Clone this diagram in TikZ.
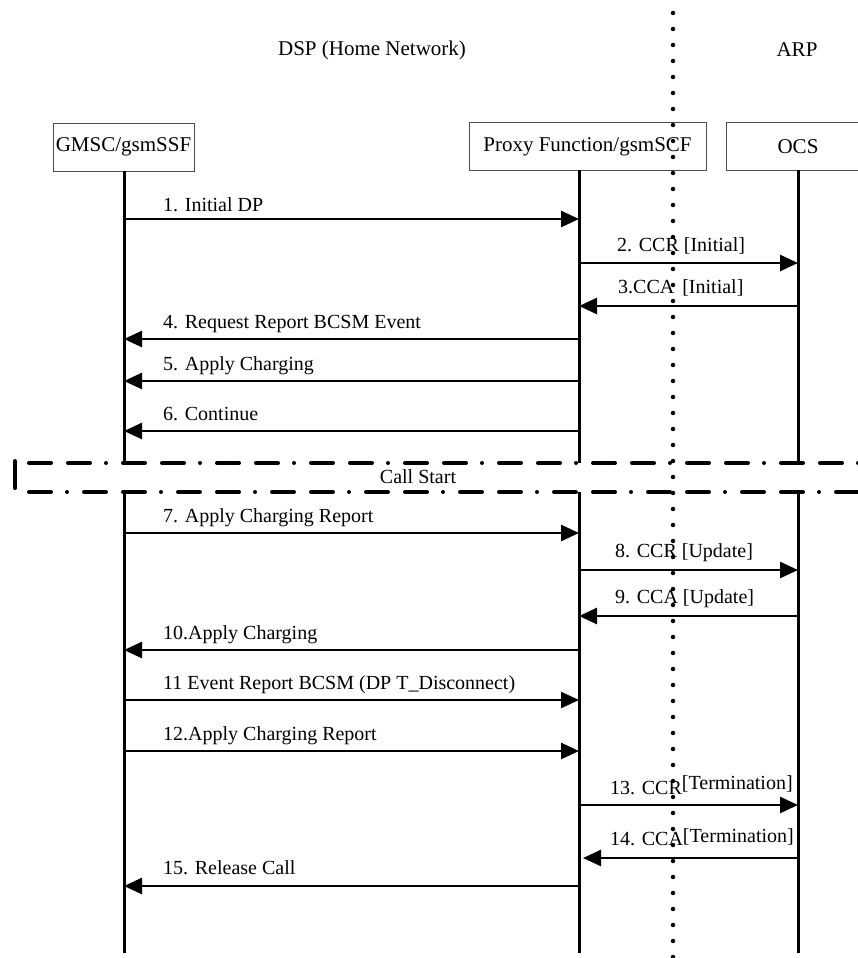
\documentclass[tikz,border=0pt]{standalone}
\usepackage{fontspec}
\setmainfont{Liberation Serif}
\usetikzlibrary{arrows.meta}
\begin{document}
\begin{tikzpicture}[x=1pt,y=-1pt,
  box/.style={draw=black!70, line width=0.8pt, minimum height=48pt, inner sep=0pt, font=\fontsize{21}{24}\selectfont},
  life/.style={line width=3pt},
  msg/.style={line width=2.6pt, -{Triangle[length=18pt,width=16pt]}},
  lab/.style={anchor=base west, inner sep=0pt, font=\fontsize{20}{24}\selectfont},
  hdr/.style={font=\fontsize{21}{24}\selectfont, inner sep=0pt},
  sepline/.style={line width=4pt, line cap=round, dash pattern=on 22pt off 17pt on 22pt off 16pt on 0pt off 17pt},
  dotline/.style={line width=4.5pt, line cap=round, dash pattern=on 0pt off 16pt}]
\useasboundingbox (0,0) rectangle (858,958);
\clip (0,0) rectangle (858,958);

% headers
\node[hdr] (dsp) at (372,50) {DSP (Home Network)};
\node[hdr] (arp) at (797,50) {ARP};

% entity boxes
\node[box, minimum width=141pt] (gmsc) at (123.5,147) {GMSC/gsmSSF};
\node[box, minimum width=237pt] (proxy) at (587.5,146.5) {Proxy Function/gsmSCF};
\node[box, minimum width=144pt] (ocs) at (798,146.5) {OCS};

% lifeline coordinates
\coordinate (gT) at (124,171); \coordinate (gM1) at (124,463); \coordinate (gM2) at (124,492); \coordinate (gE) at (124,953);
\coordinate (pT) at (579,170); \coordinate (pM1) at (579,463); \coordinate (pM2) at (579,492); \coordinate (pE) at (579,953);
\coordinate (oT) at (798,170); \coordinate (oM1) at (798,463); \coordinate (oM2) at (798,492); \coordinate (oE) at (798,953);
\draw[life] (gT) -- (gM1) (gM2) -- (gE);
\draw[life] (pT) -- (pM1) (pM2) -- (pE);
\draw[life] (oT) -- (oM1) (oM2) -- (oE);

% message coordinates
\foreach \i/\y in {1/219,2/263,3/306,4/339,5/381,6/431,7/533,8/570,9/616,10/650,11/700,12/751,13/805,14/858,15/886}{
  \coordinate (g\i) at (124,\y);
  \coordinate (p\i) at (579,\y);
  \coordinate (o\i) at (798,\y);
}
\coordinate (p14tip) at (583,858);

% messages
\draw[msg] (g1) -- (p1);
\node[lab] (l1) at (163,211) {1. Initial DP};
\draw[msg] (p2) -- (o2);
\node[lab] (l2) at (617,251) {2. CCR [Initial]};
\draw[msg] (o3) -- (p3);
\node[lab] (l3) at (618,293) {3.CCA\hspace{8pt}[Initial]};
\draw[msg] (p4) -- (g4);
\node[lab] (l4) at (163,328) {4. Request Report BCSM Event};
\draw[msg] (p5) -- (g5);
\node[lab] (l5) at (163,370) {5. Apply Charging};
\draw[msg] (p6) -- (g6);
\node[lab] (l6) at (163,420) {6. Continue};

% call start band
\coordinate (bTl) at (29,463); \coordinate (bTr) at (858,463);
\coordinate (bBl) at (29,492); \coordinate (bBr) at (858,492);
\coordinate (brT) at (15,461); \coordinate (brB) at (15,488);
\draw[sepline] (bTl) -- (bTr);
\draw[sepline, dash phase=39pt] (bBl) -- (bBr);
\draw[line width=4pt, line cap=round] (brT) -- (brB);
\node[hdr, font=\fontsize{20}{24}\selectfont] (cs) at (418,477) {Call Start};

\draw[msg] (g7) -- (p7);
\node[lab] (l7) at (163,522) {7. Apply Charging Report};
\draw[msg] (p8) -- (o8);
\node[lab] (l8) at (615,557) {8. CCR [Update]};
\draw[msg] (o9) -- (p9);
\node[lab] (l9) at (615,603) {9. CCA [Update]};
\draw[msg] (p10) -- (g10);
\node[lab] (l10) at (163,639) {10.Apply Charging};
\draw[msg] (g11) -- (p11);
\node[lab] (l11) at (163,689) {11 Event Report BCSM (DP T\_Disconnect)};
\draw[msg] (g12) -- (p12);
\node[lab] (l12) at (163,740) {12.Apply Charging Report};
\draw[msg] (p13) -- (o13);
\node[lab] (l13) at (610,794) {13. CCR\raisebox{5pt}{[Termination]}};
\draw[msg] (o14) -- (p14tip);
\node[lab] (l14) at (610,845) {14. CCA\raisebox{3pt}{[Termination]}};
\draw[msg] (p15) -- (g15);
\node[lab] (l15) at (163,874) {15. Release Call};

% domain separator
\coordinate (dTop) at (673,13); \coordinate (dBot) at (673,960);
\draw[dotline] (dTop) -- (dBot);
\end{tikzpicture}
\end{document}
